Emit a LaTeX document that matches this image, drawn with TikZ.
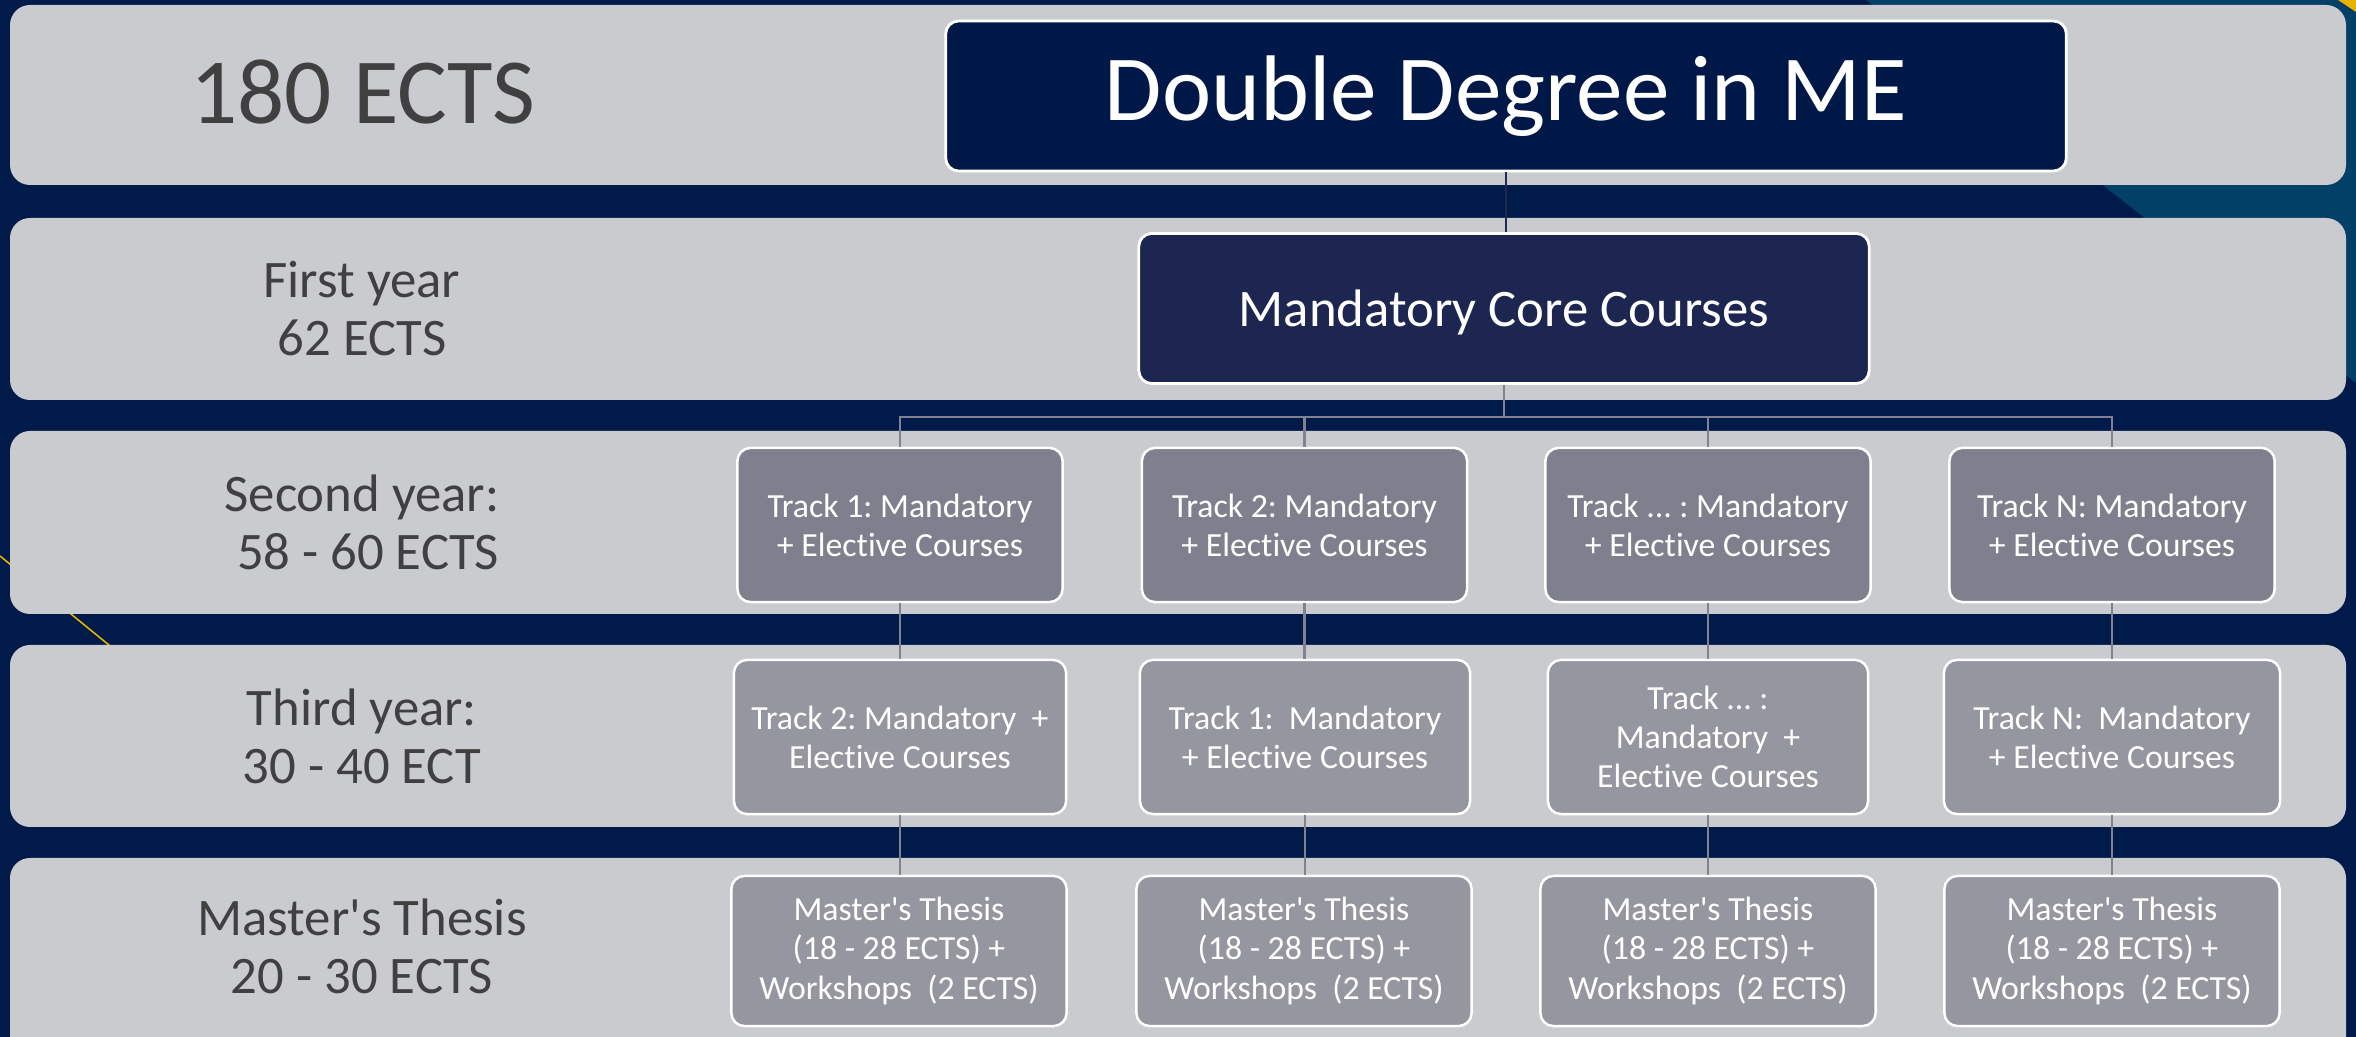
\documentclass[tikz,border=0pt]{standalone}
\usepackage{fontspec}
\setmainfont{Carlito}[Ligatures={TeX,CommonOff}]
\definecolor{bgnavy}{RGB}{0,26,74}
\definecolor{tealbg}{RGB}{2,64,104}
\definecolor{goldc}{RGB}{232,178,0}
\definecolor{bandc}{RGB}{202,203,207}
\definecolor{labc}{RGB}{64,64,64}
\definecolor{ddc}{RGB}{0,24,72}
\definecolor{mcc}{RGB}{28,38,80}
\definecolor{rthree}{RGB}{127,128,142}
\definecolor{rfour}{RGB}{150,150,160}
\definecolor{gline}{RGB}{128,130,145}
\definecolor{dline}{RGB}{30,40,80}
\newcommand\bxfont{\fontsize{9.6}{11.1}\selectfont}
\newcommand\lbfont{\fontsize{15}{16.5}\selectfont}
\newcommand\bgfont{\fontsize{26.5}{30}\selectfont}
\tikzset{
  band/.style={fill=bandc, rounded corners=0.2cm},
  lab/.style={align=center, text=labc, font=\lbfont, inner sep=0pt},
  box/.style={draw=white, line width=0.7pt, rounded corners=0.13cm, align=center, text=white, font=\bxfont, inner sep=0pt},
  rthreebox/.style={box, fill=rthree, minimum height=1.54cm, minimum width=3.25cm},
  rfourbox/.style={box, fill=rfour, minimum height=1.54cm},
  rfivebox/.style={box, fill=rfour, minimum height=1.5cm, minimum width=3.35cm},
  gconn/.style={draw=gline, line width=0.6pt},
  dconn/.style={draw=dline, line width=0.6pt},
}
\begin{document}
\frenchspacing
\begin{tikzpicture}[x=0.01cm, y=-0.01cm]
\useasboundingbox (0,0) rectangle (2356,1037);
\clip (0,0) rectangle (2356,1037);
% background
\fill[bgnavy] (0,0) rectangle (2356,1037);
\fill[tealbg] (1866,0) -- (2356,0) -- (2356,383) -- cycle;
\fill[goldc] (2338,0) -- (2356,0) -- (2356,12) -- cycle;
\draw[goldc, line width=0.45pt] (0,556) -- (115,650);
% bands
\fill[band] (10,5) rectangle (2346,185);
\fill[band] (10,218) rectangle (2346,400);
\fill[band] (10,431) rectangle (2346,614);
\fill[band] (10,645) rectangle (2346,827);
\fill[band] (10,858) rectangle (2346,1090);
% row labels
\node[lab, font=\bgfont] (l1) at (363,92) {180 ECTS};
\node[lab] (l2) at (362,309) {First year\\62 ECTS};
\node[lab] (l3) at (362,522) {Second year:\\\hspace*{0.23em}58 - 60 ECTS};
\node[lab] (l4) at (362,736) {Third year:\\30 - 40 ECT};
\node[lab] (l5) at (362,946) {Master\textquotesingle s Thesis\\20 - 30 ECTS};
% top nodes
\node[box, fill=ddc, font=\bgfont, minimum width=11.2cm, minimum height=1.5cm, line width=0.8pt] (dd) at (1506,96) {Double Degree in ME};
\node[box, fill=mcc, font=\lbfont, minimum width=7.3cm, minimum height=1.5cm, line width=0.8pt, text depth=0pt] (mc) at (1504,308.5) {Mandatory Core Courses};
% second year
\node[rthreebox] (t1) at (900,525) {Track 1: Mandatory\\+ Elective Courses};
\node[rthreebox] (t2) at (1304.5,525) {Track 2: Mandatory\\+ Elective Courses};
\node[rthreebox] (t3) at (1708,525) {Track ... : Mandatory\\+ Elective Courses};
\node[rthreebox] (t4) at (2112,525) {Track N: Mandatory\\+ Elective Courses};
% third year
\node[rfourbox, minimum width=3.32cm] (u1) at (900,737) {Track 2: Mandatory~~+\\Elective Courses};
\node[rfourbox, minimum width=3.3cm] (u2) at (1305,737) {Track 1:~~Mandatory\\+ Elective Courses};
\node[rfourbox, minimum width=3.2cm] (u3) at (1708,737) {Track ... :\\Mandatory~~+\\Elective Courses};
\node[rfourbox, minimum width=3.36cm] (u4) at (2112,737) {Track N:~~Mandatory\\+ Elective Courses};
% thesis
\node[rfivebox] (v1) at (899,951) {Master\textquotesingle s Thesis\\(18 - 28 ECTS) +\\Workshops~~(2 ECTS)};
\node[rfivebox] (v2) at (1304,951) {Master\textquotesingle s Thesis\\(18 - 28 ECTS) +\\Workshops~~(2 ECTS)};
\node[rfivebox] (v3) at (1708,951) {Master\textquotesingle s Thesis\\(18 - 28 ECTS) +\\Workshops~~(2 ECTS)};
\node[rfivebox] (v4) at (2112,951) {Master\textquotesingle s Thesis\\(18 - 28 ECTS) +\\Workshops~~(2 ECTS)};
% connectors
\draw[dconn] (dd.south) -- (dd.south |- mc.north);
\foreach \k in {1,2,3,4} {
  \draw[gconn] (mc.south) -- ++(0,32) -| (t\k.north);
  \draw[gconn] (t\k.south) -- (t\k.south |- u\k.north);
  \draw[gconn] (u\k.south) -- (u\k.south |- v\k.north);
}
\end{tikzpicture}
\end{document}
